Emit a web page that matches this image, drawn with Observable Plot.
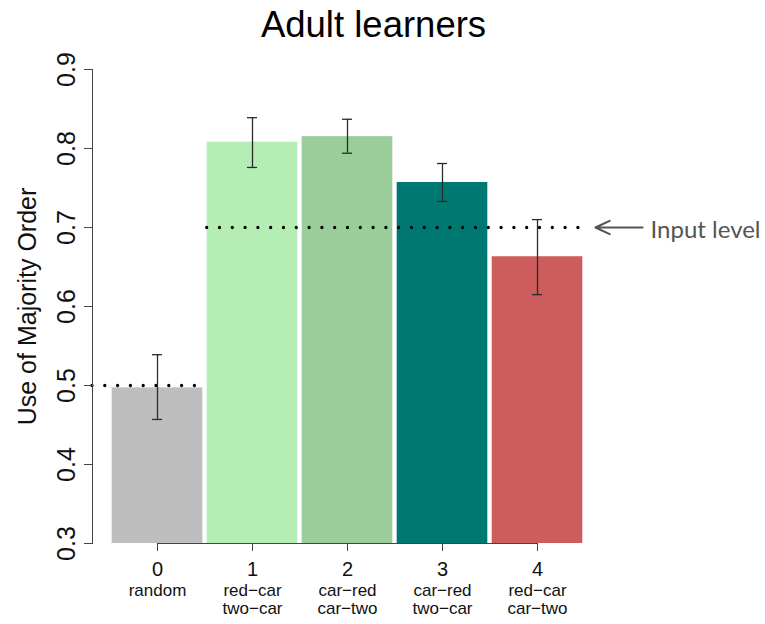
<!DOCTYPE html>
<html>
<head>
<meta charset="utf-8">
<script src="https://cdn.jsdelivr.net/npm/d3@7"></script>
<script src="https://cdn.jsdelivr.net/npm/@observablehq/plot@0.6"></script>
<style>
  html, body { margin: 0; padding: 0; background: #fff; }
  #chart svg { display: block; font-family: "Liberation Sans", Arial, Helvetica, sans-serif; }
</style>
</head>
<body>
<div id="chart"></div>
<script>
// ---- data ----
const title = "Adult learners";
const yLabel = "Use of Majority Order";
const codes = [0, 1, 2, 3, 4];
const codeLabels = ["0", "1", "2", "3", "4"];
const conditions = ["random", "red\u2212car\ntwo\u2212car", "car\u2212red\ncar\u2212two", "car\u2212red\ntwo\u2212car", "red\u2212car\ncar\u2212two"];
const means = [0.497, 0.808, 0.815, 0.757, 0.663];
const lower = [0.457, 0.776, 0.794, 0.733, 0.615];
const upper = [0.539, 0.839, 0.837, 0.781, 0.710];
const colors = ["#bebebe", "#b4eeb4", "#9bcd9b", "#007872", "#cd5c5c"];
const yTicks = [0.3, 0.4, 0.5, 0.6, 0.7, 0.8, 0.9];
const chanceLevel = 0.5;
const inputLevel = 0.7;
const inputLabel = "Input level";

// ---- layout constants ----
const marginLeft = 92;
const xRange = [157, 537];
const hw = 0.477;      // half bar width (category units)
const capHw = 0.053;   // half error-cap width
const yBase = 0.3;
const xScale = d3.scaleLinear([codes[0], codes[codes.length - 1]], xRange);
const xAxisPos = xScale.invert(marginLeft);

const rows = codes.map((c, i) => ({
  code: c, label: codeLabels[i], cond: conditions[i],
  mean: means[i], lo: lower[i], hi: upper[i], color: colors[i]
}));

const dotted = {stroke: "#000", strokeWidth: 3.3, strokeDasharray: "0 12.8", strokeLinecap: "round"};
const errStyle = {stroke: "#2b2b2b", strokeWidth: 1.3};

const chart = Plot.plot({
  width: 765,
  height: 624,
  marginTop: 69,
  marginBottom: 81,
  marginLeft,
  marginRight: 111,
  x: {type: "linear", domain: xScale.domain(), range: xRange},
  y: {domain: [yTicks[0], yTicks[yTicks.length - 1]]},
  marks: [
    Plot.rectY(rows, {x1: d => d.code - hw, x2: d => d.code + hw, y1: yBase, y2: "mean", fill: "color"}),
    // chance line over bar 0
    Plot.ruleY([chanceLevel], {x1: xAxisPos, x2: codes[0] + hw, ...dotted}),
    // input level line over bars 1-4
    Plot.ruleY([inputLevel], {x1: codes[1] - hw, x2: codes[4] + hw, ...dotted}),
    // error bars
    Plot.ruleX(rows, {x: "code", y1: "lo", y2: "hi", ...errStyle}),
    Plot.ruleY(rows, {y: "hi", x1: d => d.code - capHw, x2: d => d.code + capHw, ...errStyle}),
    Plot.ruleY(rows, {y: "lo", x1: d => d.code - capHw, x2: d => d.code + capHw, ...errStyle}),
    // axes
    Plot.frame({anchor: "left", stroke: "#444"}),
    Plot.axisY({ticks: yTicks, tickSize: 8, tickPadding: 10, tickRotate: -90, fontSize: 25, label: null, stroke: "#444", color: "#111", tickFormat: d => d.toFixed(1)}),
    Plot.ruleY([yBase], {x1: codes[0], x2: codes[codes.length - 1], stroke: "#444"}),
    Plot.axisX({ticks: codes, tickSize: 8, tickPadding: 10, fontSize: 20, label: null, stroke: "#444", color: "#111", tickFormat: d => codeLabels[d]}),
    Plot.text(rows, {x: "code", text: "cond", frameAnchor: "bottom", lineAnchor: "top", dy: 39, fontSize: 17, lineHeight: 1.09, fill: "#111"}),
    Plot.text([yLabel], {frameAnchor: "left", textAnchor: "middle", rotate: -90, dx: -57, lineAnchor: "bottom", fontSize: 25, fill: "#111"}),
    Plot.text([title], {frameAnchor: "top", dy: -33, lineAnchor: "bottom", fontSize: 36.5, fill: "#000"}),
    // annotation
    Plot.arrow([inputLevel], {x1: 5.105, x2: 4.61, y1: d => d, y2: d => d, stroke: "#555", strokeWidth: 2.2, headLength: 13, headAngle: 50}),
    Plot.text([inputLabel], {x: 5.19, y: () => inputLevel, text: d => d, textAnchor: "start", lineAnchor: "middle", dy: 3, fontSize: 24, fill: "#555", fontFamily: "Lato, 'Open Sans', sans-serif"})
  ]
});
document.getElementById("chart").appendChild(chart);
</script>
</body>
</html>
